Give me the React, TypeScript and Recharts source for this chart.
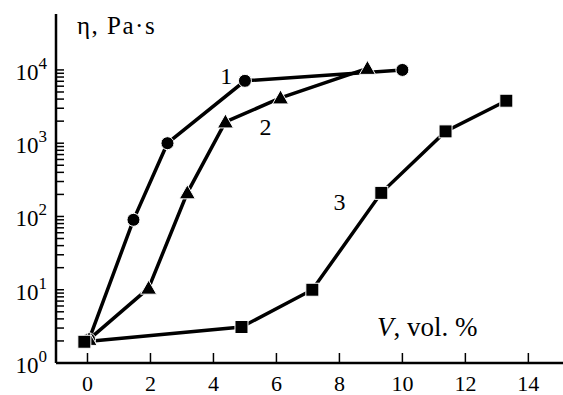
import { LineChart, Line, XAxis, YAxis, ReferenceDot } from 'recharts';

const FONT = 'Liberation Serif, DejaVu Serif, serif';

// V, vol. %  vs  viscosity (Pa·s)
const curve1 = [
  { x: 0.05, y: 2.1 },
  { x: 1.46, y: 90 },
  { x: 2.54, y: 1000 },
  { x: 5.0, y: 7100 },
  { x: 10.0, y: 10000 },
];
const curve2 = [
  { x: 0.05, y: 2.1 },
  { x: 1.94, y: 10.5 },
  { x: 3.17, y: 210 },
  { x: 4.38, y: 1950 },
  { x: 6.13, y: 4150 },
  { x: 8.89, y: 10500 },
];
const curve3 = [
  { x: -0.1, y: 1.95 },
  { x: 4.89, y: 3.1 },
  { x: 7.14, y: 10 },
  { x: 9.33, y: 210 },
  { x: 11.37, y: 1450 },
  { x: 13.3, y: 3800 },
];

const curveLabels = [
  { x: 4.41, y: 8300, text: '1' },
  { x: 5.65, y: 1700, text: '2' },
  { x: 8.0, y: 160, text: '3' },
];

const xTicks = [0, 2, 4, 6, 8, 10, 12, 14];
const decades = [1, 10, 100, 1000, 10000];
const minorSteps = [2, 3, 4, 5, 6, 7, 8, 9];
const yTicks = decades.flatMap((d, i) =>
  i < decades.length - 1 ? [d, ...minorSteps.map((m) => d * m)] : [d]
);

const XTick = (props: any) => {
  const { x, y, payload } = props;
  return (
    <g>
      <line x1={x} x2={x} y1={y} y2={y - 10} stroke="#000" strokeWidth={1.5} />
      <text x={x} y={y + 28} textAnchor="middle" fontFamily={FONT} fontSize={22} fill="#000">
        {payload.value}
      </text>
    </g>
  );
};

const YTick = (props: any) => {
  const { x, y, payload } = props;
  const v = payload.value;
  const exp = Math.round(Math.log10(v));
  const isMajor = Math.abs(Math.log10(v) - exp) < 1e-9;
  return (
    <g>
      <line x1={x} x2={x + 8} y1={y} y2={y} stroke="#000" strokeWidth={1.5} />
      {isMajor && (
        <text x={x - 9} y={y + 10} textAnchor="end" fontFamily={FONT} fontSize={23} fill="#000">
          10
          <tspan dy={-11} fontSize={17}>
            {exp}
          </tspan>
        </text>
      )}
    </g>
  );
};

const Circle = (p: any) => (
  <circle key={p.index} cx={p.cx} cy={p.cy} r={6.5} fill="#000" stroke="#fff" strokeWidth={1} />
);
const Triangle = (p: any) => (
  <polygon
    key={p.index}
    points={`${p.cx},${p.cy - 8} ${p.cx - 8},${p.cy + 6} ${p.cx + 8},${p.cy + 6}`}
    fill="#000"
    stroke="#fff"
    strokeWidth={1}
  />
);
const Square = (p: any) => (
  <rect key={p.index} x={p.cx - 6.5} y={p.cy - 6.5} width={13} height={13} fill="#000" stroke="#fff" strokeWidth={1} />
);

export default function App() {
  return (
    <div style={{ position: 'absolute', left: 0, top: 0, width: 563, height: 395, background: '#fff' }}>
      <LineChart width={563} height={395} margin={{ top: 14, right: 0, bottom: 0, left: 0 }}>
        <XAxis
          type="number"
          dataKey="x"
          domain={[-1, 15.1]}
          ticks={xTicks}
          allowDataOverflow
          height={32}
          tickSize={0}
          tickMargin={0}
          tick={<XTick />}
          axisLine={{ stroke: '#000', strokeWidth: 2.5 }}
          tickLine={false}
        />
        <YAxis
          type="number"
          dataKey="y"
          scale="log"
          domain={[1, 58000]}
          ticks={yTicks}
          allowDataOverflow
          width={56}
          tickSize={0}
          tickMargin={0}
          interval={0}
          tick={<YTick />}
          axisLine={{ stroke: '#000', strokeWidth: 2.5 }}
          tickLine={false}
        />
        <Line data={curve1} dataKey="y" stroke="#000" strokeWidth={3.5} dot={Circle} isAnimationActive={false} />
        <Line data={curve2} dataKey="y" stroke="#000" strokeWidth={3.5} dot={Triangle} isAnimationActive={false} />
        <Line data={curve3} dataKey="y" stroke="#000" strokeWidth={3.5} dot={Square} isAnimationActive={false} />
        {curveLabels.map((l) => (
          <ReferenceDot
            key={l.text}
            x={l.x}
            y={l.y}
            r={0}
            stroke="none"
            label={{ value: l.text, position: 'center', fontFamily: FONT, fontSize: 24, fill: '#000' }}
          />
        ))}
      </LineChart>
      <div style={{ position: 'absolute', left: 77, top: 11, fontFamily: FONT, fontSize: 25, lineHeight: '30px', letterSpacing: 1.5, color: '#000', whiteSpace: 'nowrap' }}>
        η, Pa·s
      </div>
      <div style={{ position: 'absolute', left: 377, top: 310, fontFamily: FONT, fontSize: 27, lineHeight: '34px', color: '#000', whiteSpace: 'nowrap' }}>
        <i>V</i>, vol. %
      </div>
    </div>
  );
}
